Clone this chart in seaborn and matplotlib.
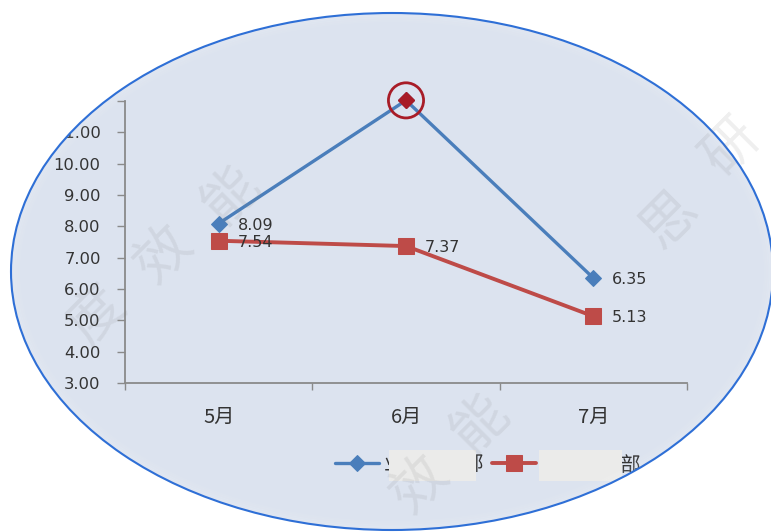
import numpy as np
import pandas as pd
import matplotlib
matplotlib.use("Agg")
import matplotlib.pyplot as plt
import seaborn as sns
from matplotlib.patches import Ellipse, PathPatch, Rectangle
from matplotlib.path import Path

# ---- data ----
months = ["5月", "6月", "7月"]
series_a_name = "业务发展部"
series_b_name = "技术研发部"
series_a = [8.09, 12.02, 6.35]
series_b = [7.54, 7.37, 5.13]
y_ticks = [3, 4, 5, 6, 7, 8, 9, 10, 11, 12]
highlight_index = 1
watermark = "思研度效能"

BLUE = "#4a7ebb"
RED = "#be4b48"
DARKRED = "#a81c27"
TXT = "#333333"
NUMFONT = ["DejaVu Sans", "Noto Sans CJK SC"]
CJKFONT = ["Noto Sans CJK SC", "DejaVu Sans"]

sns.set_theme(style="white")
plt.rcParams["font.family"] = CJKFONT

W, H = 771, 532
fig = plt.figure(figsize=(W / 100, H / 100), dpi=100)
fig.patch.set_facecolor("white")


def fx(px):
    return px / W


def fy(py):
    return 1 - py / H


# ellipse background
cx, cy, ea, eb = 392, 271.5, 381, 258.5
ell_fill = Ellipse((fx(cx), fy(cy)), 2 * ea / W, 2 * eb / H, transform=fig.transFigure,
                   facecolor="#dce3ef", edgecolor="none", zorder=-5)
fig.patches.append(ell_fill)

ax = fig.add_axes([fx(125), fy(383), fx(687) - fx(125), fy(101) - fy(383)])
ax.patch.set_visible(False)

df_a = pd.DataFrame({"月份": months, "值": series_a})
df_b = pd.DataFrame({"月份": months, "值": series_b})

sns.lineplot(data=df_a, x="月份", y="值", ax=ax, color=BLUE, lw=2.4, marker="D",
             markersize=8, markeredgecolor=BLUE, markerfacecolor=BLUE, label=series_a_name,
             sort=False, clip_on=False)
sns.lineplot(data=df_b, x="月份", y="值", ax=ax, color=RED, lw=2.8, marker="s",
             markersize=11, markeredgecolor=RED, markerfacecolor=RED, label=series_b_name,
             sort=False, clip_on=False)

# highlighted point
ax.plot([highlight_index], [series_a[highlight_index]], marker="D", markersize=8, color=DARKRED,
        linestyle="none", label="_nolegend_", zorder=5, clip_on=False)
ax.scatter([highlight_index], [series_a[highlight_index]], s=640, facecolors="none",
           edgecolors=DARKRED, linewidths=2, zorder=6, label="_nolegend_", clip_on=False)

# data labels
for vals in (series_a, series_b):
    for i, v in enumerate(vals):
        ax.annotate(f"{v:.2f}", (i, v), xytext=(13.5, -1.2), textcoords="offset points",
                    ha="left", va="center", fontsize=11.5, color=TXT, family=NUMFONT)

ax.set_xlim(-0.5, 2.5)
ax.set_ylim(3, 12)
ax.set_yticks(y_ticks)
ax.set_yticklabels([f"{t:.2f}" for t in y_ticks], family=NUMFONT)
ax.set_xticks(range(len(months)))
ax.set_xticklabels(months, family=CJKFONT, fontweight="medium")
ax.set_xticks([-0.5, 0.5, 1.5, 2.5], minor=True)
ax.set_xlabel("")
ax.set_ylabel("")

for s in ("top", "right"):
    ax.spines[s].set_visible(False)
for s in ("left", "bottom"):
    ax.spines[s].set_color("#8a8a8a")
    ax.spines[s].set_linewidth(1.3)

ax.tick_params(axis="y", direction="out", length=5.5, width=1, color="#8a8a8a",
               labelsize=11.8, labelcolor=TXT, pad=12, left=True)
ax.tick_params(axis="x", which="major", length=0, labelsize=14.5, labelcolor=TXT, pad=17)
ax.tick_params(axis="x", which="minor", direction="out", length=5, width=1, color="#8a8a8a", bottom=True)

handles, labels = ax.get_legend_handles_labels()
leg = ax.legend(handles, labels, loc="center", bbox_to_anchor=(fx(488), fy(465)),
                bbox_transform=fig.transFigure, ncol=2, frameon=False, handlelength=2.2,
                columnspacing=0.4, handletextpad=0.2, fontsize=14.5)
for t in leg.get_texts():
    t.set_color(TXT)

# very soft inner fade along the ellipse edge
for k in range(1, 6):
    d = 2.0 * k
    fig.patches.append(Ellipse((fx(cx), fy(cy)), 2 * (ea - d) / W, 2 * (eb - d) / H,
                               transform=fig.transFigure, facecolor="none",
                               edgecolor="white", lw=2.0, alpha=0.10 * (6 - k) / 5,
                               zorder=4.5))

# mask outside ellipse (opposite winding to the outer rectangle)
theta = np.linspace(0, 2 * np.pi, 600)
ex = fx(cx + ea * np.cos(theta))
ey = fy(cy + eb * np.sin(theta))
outer = [(0, 0), (1, 0), (1, 1), (0, 1), (0, 0)]
inner = list(zip(ex, ey))
verts = outer + inner + [inner[0]]
codes = ([Path.MOVETO] + [Path.LINETO] * 3 + [Path.CLOSEPOLY]
         + [Path.MOVETO] + [Path.LINETO] * (len(inner) - 1) + [Path.CLOSEPOLY])
mask = PathPatch(Path(verts, codes), transform=fig.transFigure, facecolor="white",
                 edgecolor="none", zorder=5)
fig.patches.append(mask)
ell_edge = Ellipse((fx(cx), fy(cy)), 2 * ea / W, 2 * eb / H, transform=fig.transFigure,
                   facecolor="none", edgecolor="#2e6fd6", lw=1.5, zorder=6)
fig.patches.append(ell_edge)

# cover legend labels (blurred in reference)
fig.canvas.draw()
inv = fig.transFigure.inverted()
for k, t in enumerate(leg.get_texts()):
    bb = t.get_window_extent()
    x0 = bb.x0 + 6 if k == 0 else bb.x0 - 1
    x1 = bb.x1 - 8 if k == 0 else bb.x1 - 19
    (a0, b0) = inv.transform((x0, bb.y0 - 5))
    (a1, b1) = inv.transform((x1, bb.y1 + 5))
    fig.patches.append(Rectangle((a0, b0), a1 - a0, b1 - b0, transform=fig.transFigure,
                                 facecolor="#ebebea", edgecolor="none", zorder=4))

# watermarks (only glyphs that sit inside the picture)
def wm_row(x0, y0, dx, dy, chars):
    for j, ch in enumerate(chars):
        x, y = x0 + j * dx, y0 + j * dy
        if 32 <= x <= W - 36 and 32 <= y <= H - 32:
            fig.text(fx(x), fy(y), ch, fontsize=40, color="#808080",
                     alpha=0.13, rotation=45, ha="center", va="center", zorder=8)

wm_row(-37, 435, 67, -60, watermark)
wm_row(670, 220, 62, -72, watermark)
wm_row(240, 671, 60, -62, watermark)

fig.savefig("out.png", dpi=100, facecolor="white")
